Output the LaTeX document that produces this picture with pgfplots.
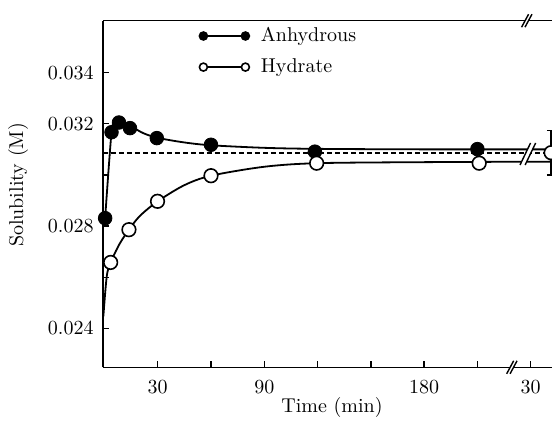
\documentclass[border=0pt]{standalone}
\usepackage{pgfplots}
\pgfplotsset{compat=1.18}
\usetikzlibrary{calc}

% slanted double stroke used for the axis breaks
\newcommand{\brk}[3]{%
  \begin{scope}[shift={(#1)}, xscale=#2, yscale=#3]
    \fill[white] (-2.6pt,-3.25pt) -- (-0.9pt,-3.25pt) -- (2.6pt,3.25pt) -- (0.9pt,3.25pt) -- cycle;
    \draw[line width=0.7pt] (-2.6pt,-3.25pt) -- (0.9pt,3.25pt);
    \draw[line width=0.7pt] (-0.9pt,-3.25pt) -- (2.6pt,3.25pt);
  \end{scope}}

\begin{document}
\begin{tikzpicture}
\begin{axis}[
  name=ax,
  scale only axis,
  width=224.5pt, height=173.3pt,
  xmin=-0.8, xmax=252,
  ymin=0.02248, ymax=0.03603,
  clip=false,
  scaled y ticks=false,
  unbounded coords=jump,
  axis x line*=bottom, axis y line*=left,
  axis line style={-, line width=0.7pt},
  tick align=inside,
  major tick length=3pt,
  tick style={line width=0.7pt, black},
  xtick={30,60,90,120,150,180,210,240},
  xticklabels={30,,90,,,180,,30},
  ytick={0.024,0.026,0.028,0.030,0.032,0.034},
  yticklabels={0.024,,0.028,,0.032,0.034},
  xticklabel style={yshift=-3pt},
  yticklabel style={xshift=-1.2pt},
  xlabel={Time (min)},
  ylabel={Solubility (M)},
  xlabel style={at={(axis description cs:0.51,-0.115)}, anchor=center},
  ylabel style={at={(axis description cs:-0.189,0.526)}, anchor=center},
  legend image code/.code={\draw[#1, mark size=2pt] plot coordinates {(0pt,0pt) (21pt,0pt)};},
  legend style={draw=none, fill=none, at={(axis description cs:0.2138,0.982)},
    anchor=north west, row sep=7pt, column sep=5.8pt, inner sep=0pt, nodes={inner sep=0pt}},
  legend cell align=left,
]
\addlegendimage{black, line width=0.8pt, mark=*, mark options={solid, fill=black}}
\addlegendentry{Anhydrous}
\addlegendimage{black, line width=0.8pt, mark=*, mark options={solid, fill=white, draw=black}}
\addlegendentry{Hydrate}

% fitted curves
\addplot[black, line width=0.9pt, smooth, forget plot] coordinates {
  (0.4,0.02831) (4,0.03167) (6,0.03205) (8.5,0.03212) (12,0.032) (15,0.0319)
  (22,0.03163) (30,0.03145) (45,0.03127) (60,0.03116) (90,0.03106)
  (120,0.03102) (180,0.031) (252,0.031)
};
\addplot[black, line width=0.9pt, smooth, forget plot] coordinates {
  (-0.6,0.02447) (1.3,0.02603) (3.5,0.02658) (8.5,0.0273) (13.8,0.02786)
  (20,0.0284) (30,0.02897) (45,0.0296) (60,0.02997) (90,0.03032)
  (120,0.03046) (180,0.0305) (252,0.03052)
};
\addplot[black, line width=0.9pt, dash pattern=on 2.5pt off 1.5pt, forget plot] coordinates {
  (-0.8,0.03086) (252,0.03086)
};

% error bar of the equilibrium point
\addplot[black, line width=0.7pt, forget plot] coordinates {
  (249.1,0.03173) (253.9,0.03173) (nan,nan)
  (251.5,0.03173) (251.5,0.0300) (nan,nan)
  (249.1,0.0300) (253.9,0.0300)
};

% anhydrous
\addplot[only marks, mark=*, mark size=3.4pt, mark options={fill=black, draw=black}, forget plot] coordinates {
  (0.4,0.02831) (4,0.03167) (8.2,0.03205) (14.4,0.03183) (29.5,0.03144)
  (60,0.03118) (118.5,0.03091) (210,0.03101)
};
% hydrate
\addplot[only marks, mark=*, mark size=3.4pt, mark options={fill=white, draw=black, line width=0.8pt}, forget plot] coordinates {
  (3.5,0.02658) (13.8,0.02786) (29.9,0.02897) (60,0.02997) (119.5,0.03046) (211,0.03046)
  (251.5,0.03087)
};

\coordinate (bb) at (axis cs:229.4,0.02248);
\coordinate (bt) at (axis cs:237.8,0.03603);
\coordinate (bd) at (axis cs:238.4,0.03082);
\end{axis}

\draw[line width=0.7pt] (ax.north west) -- (ax.north east);
\brk{bb}{1}{1}
\brk{bt}{1}{1}
\brk{bd}{1.5}{1.69}

\pgfresetboundingbox
\useasboundingbox ($(ax.south west)+(-51.5pt,-27.85pt)$) rectangle ($(ax.north east)+(0pt,10.35pt)$);
\end{tikzpicture}
\end{document}
